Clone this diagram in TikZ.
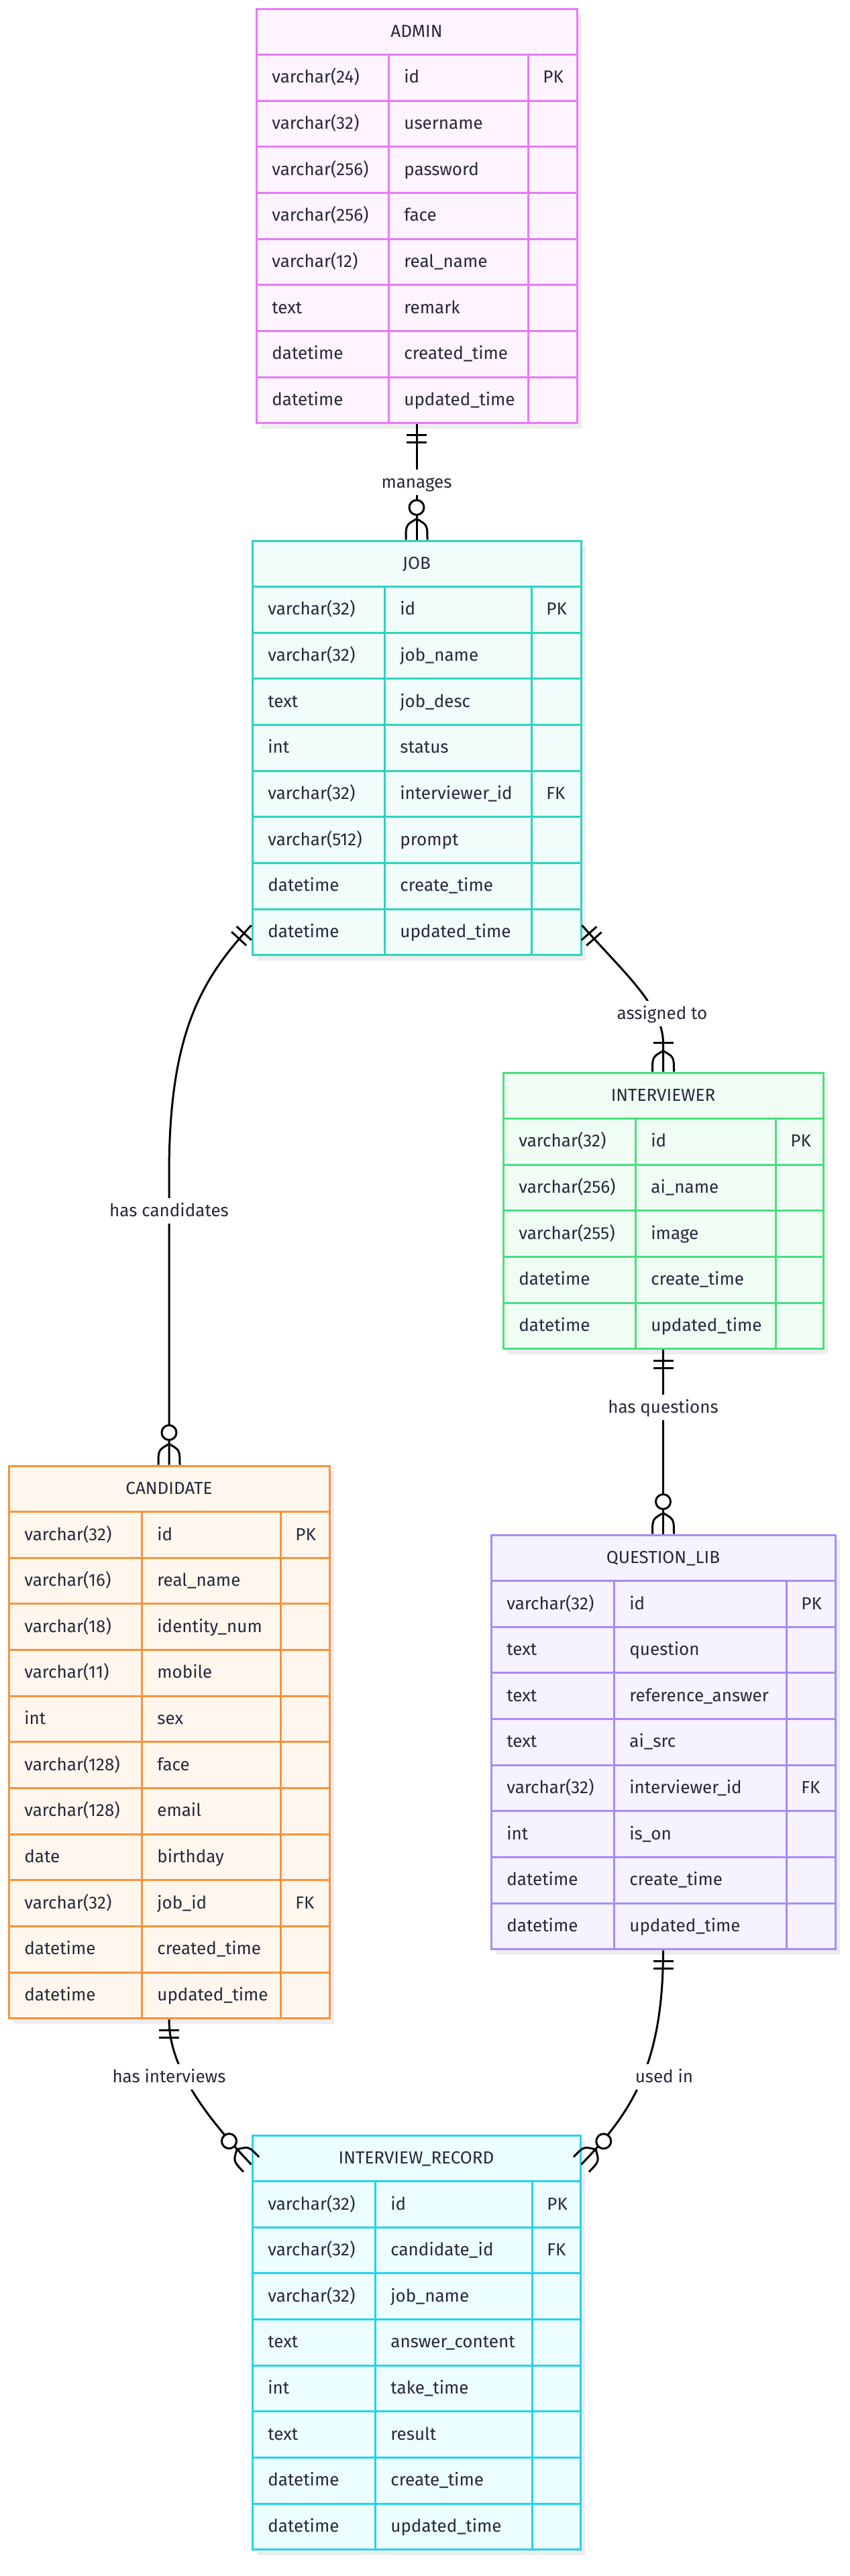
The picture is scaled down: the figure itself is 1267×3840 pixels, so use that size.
\documentclass[tikz,border=0pt]{standalone}
\usepackage{fontspec}
\setmainfont{Fira Sans}
\usetikzlibrary{calc,fit,decorations.markings}

\definecolor{inktext}{HTML}{28283C}
\definecolor{adminline}{HTML}{E879F9} \definecolor{adminbg}{HTML}{FDF4FF}
\definecolor{jobline}{HTML}{2DD4BF} \definecolor{jobbg}{HTML}{F0FDFA}
\definecolor{viewerline}{HTML}{4ADE80} \definecolor{viewerbg}{HTML}{F0FDF4}
\definecolor{candline}{HTML}{FB923C} \definecolor{candbg}{HTML}{FFF7ED}
\definecolor{qlibline}{HTML}{A78BFA} \definecolor{qlibbg}{HTML}{F5F3FF}
\definecolor{recline}{HTML}{22D3EE} \definecolor{recbg}{HTML}{ECFEFF}

\tikzset{
  erbox/.style={draw=#1line, fill=#1bg, line width=1.5pt, inner sep=0pt},
  erline/.style={draw=#1line, line width=1.5pt},
  ershadow/.style={fill=black!7},
  ertext/.style={text=inktext, font=\fontsize{13}{15}\selectfont, inner sep=0pt, text height=9pt, text depth=1pt},
  erlabel/.style={ertext, fill=white, inner xsep=3pt, inner ysep=4.5pt},
  erlink/.style={line width=1.5pt, black},
  pics/oneonly/.style={code={\draw[erlink] (16,-15) -- (16,15) (27,-15) -- (27,15);}},
  pics/zeromany/.style={code={
    \draw[erlink] (-31,0) .. controls (-22,16) .. (0,16) (-31,0) .. controls (-22,-16) .. (0,-16);
    \draw[erlink, fill=white] (-48,0) circle (11);}},
  pics/onemany/.style={code={
    \draw[erlink] (-31,0) .. controls (-22,16) .. (0,16) (-31,0) .. controls (-22,-16) .. (0,-16);
    \draw[erlink] (-43,-15) -- (-43,15);}},
  rel/.style 2 args={postaction={decorate, decoration={markings,
      mark=at position 0 with {\pic[transform shape] {#1};},
      mark=at position 1 with {\pic[transform shape] {#2};}}}}
}

% name, colour, left, top, column 2, column 3, right, title, rows
\newcommand\ertable[9]{%
  \foreach \ty/\fn/\ky [count=\rowno] in {#9} {\xdef\errows{\rowno}}
  \pgfmathsetmacro\erbot{#4+(\errows+1)*68.65}
  \fill[ershadow] (#3+7,#4+8) rectangle (#7+7,\erbot+8);
  \node[erbox=#2, fit={(#3,#4) (#7,\erbot)}] (#1) {};
  \node[ertext] (#1-name) at ({(#3+#7)/2},#4+34.3) {#8};
  \draw[erline=#2] (#3,#4+68.65) -- (#7,#4+68.65);
  \draw[erline=#2] (#5,#4+68.65) -- (#5,\erbot) (#6,#4+68.65) -- (#6,\erbot);
  \foreach \ty/\fn/\ky [count=\rowno] in {#9} {
    \pgfmathsetmacro\ery{#4+(\rowno+0.5)*68.65}
    \draw[erline=#2] (#3,\ery+34.3) -- (#7,\ery+34.3);
    \node[ertext, anchor=west] (#1-t\rowno) at (#3+23,\ery) {\ty};
    \node[ertext, anchor=west] (#1-f\rowno) at (#5+23,\ery) {\fn};
    \node[ertext, anchor=west] (#1-k\rowno) at (#6+22,\ery) {\ky};
  }
}

\begin{document}
\begin{tikzpicture}[x=0.5pt, y=-0.5pt]
\fill[white] (0,0) rectangle (1267,3840);
\useasboundingbox (0,0) rectangle (1267,3840);

\ertable{admin}{admin}{382}{13}{579}{787}{860}{ADMIN}{%
  varchar(24)/id/PK, varchar(32)/username/{}, varchar(256)/password/{}, varchar(256)/face/{},
  varchar(12)/real\_name/{}, text/remark/{}, datetime/created\_time/{}, datetime/updated\_time/{}}
\ertable{job}{job}{376}{806}{573}{792}{866}{JOB}{%
  varchar(32)/id/PK, varchar(32)/job\_name/{}, text/job\_desc/{}, int/status/{},
  varchar(32)/interviewer\_id/FK, varchar(512)/prompt/{}, datetime/create\_time/{}, datetime/updated\_time/{}}
\ertable{interviewer}{viewer}{750}{1599}{947}{1156}{1227}{INTERVIEWER}{%
  varchar(32)/id/PK, varchar(256)/ai\_name/{}, varchar(255)/image/{}, datetime/create\_time/{},
  datetime/updated\_time/{}}
\ertable{candidate}{cand}{13}{2185}{211}{418}{491}{CANDIDATE}{%
  varchar(32)/id/PK, varchar(16)/real\_name/{}, varchar(18)/identity\_num/{}, varchar(11)/mobile/{},
  int/sex/{}, varchar(128)/face/{}, varchar(128)/email/{}, date/birthday/{}, varchar(32)/job\_id/FK,
  datetime/created\_time/{}, datetime/updated\_time/{}}
\ertable{qlib}{qlib}{732}{2288}{915}{1172}{1245}{QUESTION\_LIB}{%
  varchar(32)/id/PK, text/question/{}, text/reference\_answer/{}, text/ai\_src/{},
  varchar(32)/interviewer\_id/FK, int/is\_on/{}, datetime/create\_time/{}, datetime/updated\_time/{}}
\ertable{record}{rec}{376}{3183}{559}{793}{865}{INTERVIEW\_RECORD}{%
  varchar(32)/id/PK, varchar(32)/candidate\_id/FK, varchar(32)/job\_name/{}, text/answer\_content/{},
  int/take\_time/{}, text/result/{}, datetime/create\_time/{}, datetime/updated\_time/{}}

% relations
\draw[erlink, rel={oneonly}{zeromany}] (admin.south) -- (job.north); % manages
\node[erlabel] (manages) at (621,719) {manages};
\draw[erlink, rel={oneonly}{zeromany}] ($(job.south west)+(0,-46)$) .. controls (300,1460) and (252,1540) .. (252,1750) -- (candidate.north); % has candidates
\node[erlabel] (hascandidates) at (252,1805) {has candidates};
\draw[erlink, rel={oneonly}{onemany}] ($(job.south east)+(0,-46)$) .. controls (930,1450) and (988.5,1500) .. (988.5,1555) -- (interviewer.north); % assigned to
\node[erlabel] (assignedto) at (987,1511) {assigned to};
\draw[erlink, rel={oneonly}{zeromany}] (interviewer.south) -- (qlib.north); % has questions
\node[erlabel] (hasquestions) at (988.5,2098) {has questions};
\draw[erlink, rel={oneonly}{zeromany}] (candidate.south) .. controls (252,3080) and (302,3150) .. ($(record.north west)+(0,45)$); % has interviews
\node[erlabel] (hasinterviews) at (252,3096) {has interviews};
\draw[erlink, rel={oneonly}{zeromany}] (qlib.south) .. controls (988.5,3080) and (940,3150) .. ($(record.north east)+(0,45)$); % used in
\node[erlabel] (usedin) at (990,3096) {used in};
\end{tikzpicture}
\end{document}
